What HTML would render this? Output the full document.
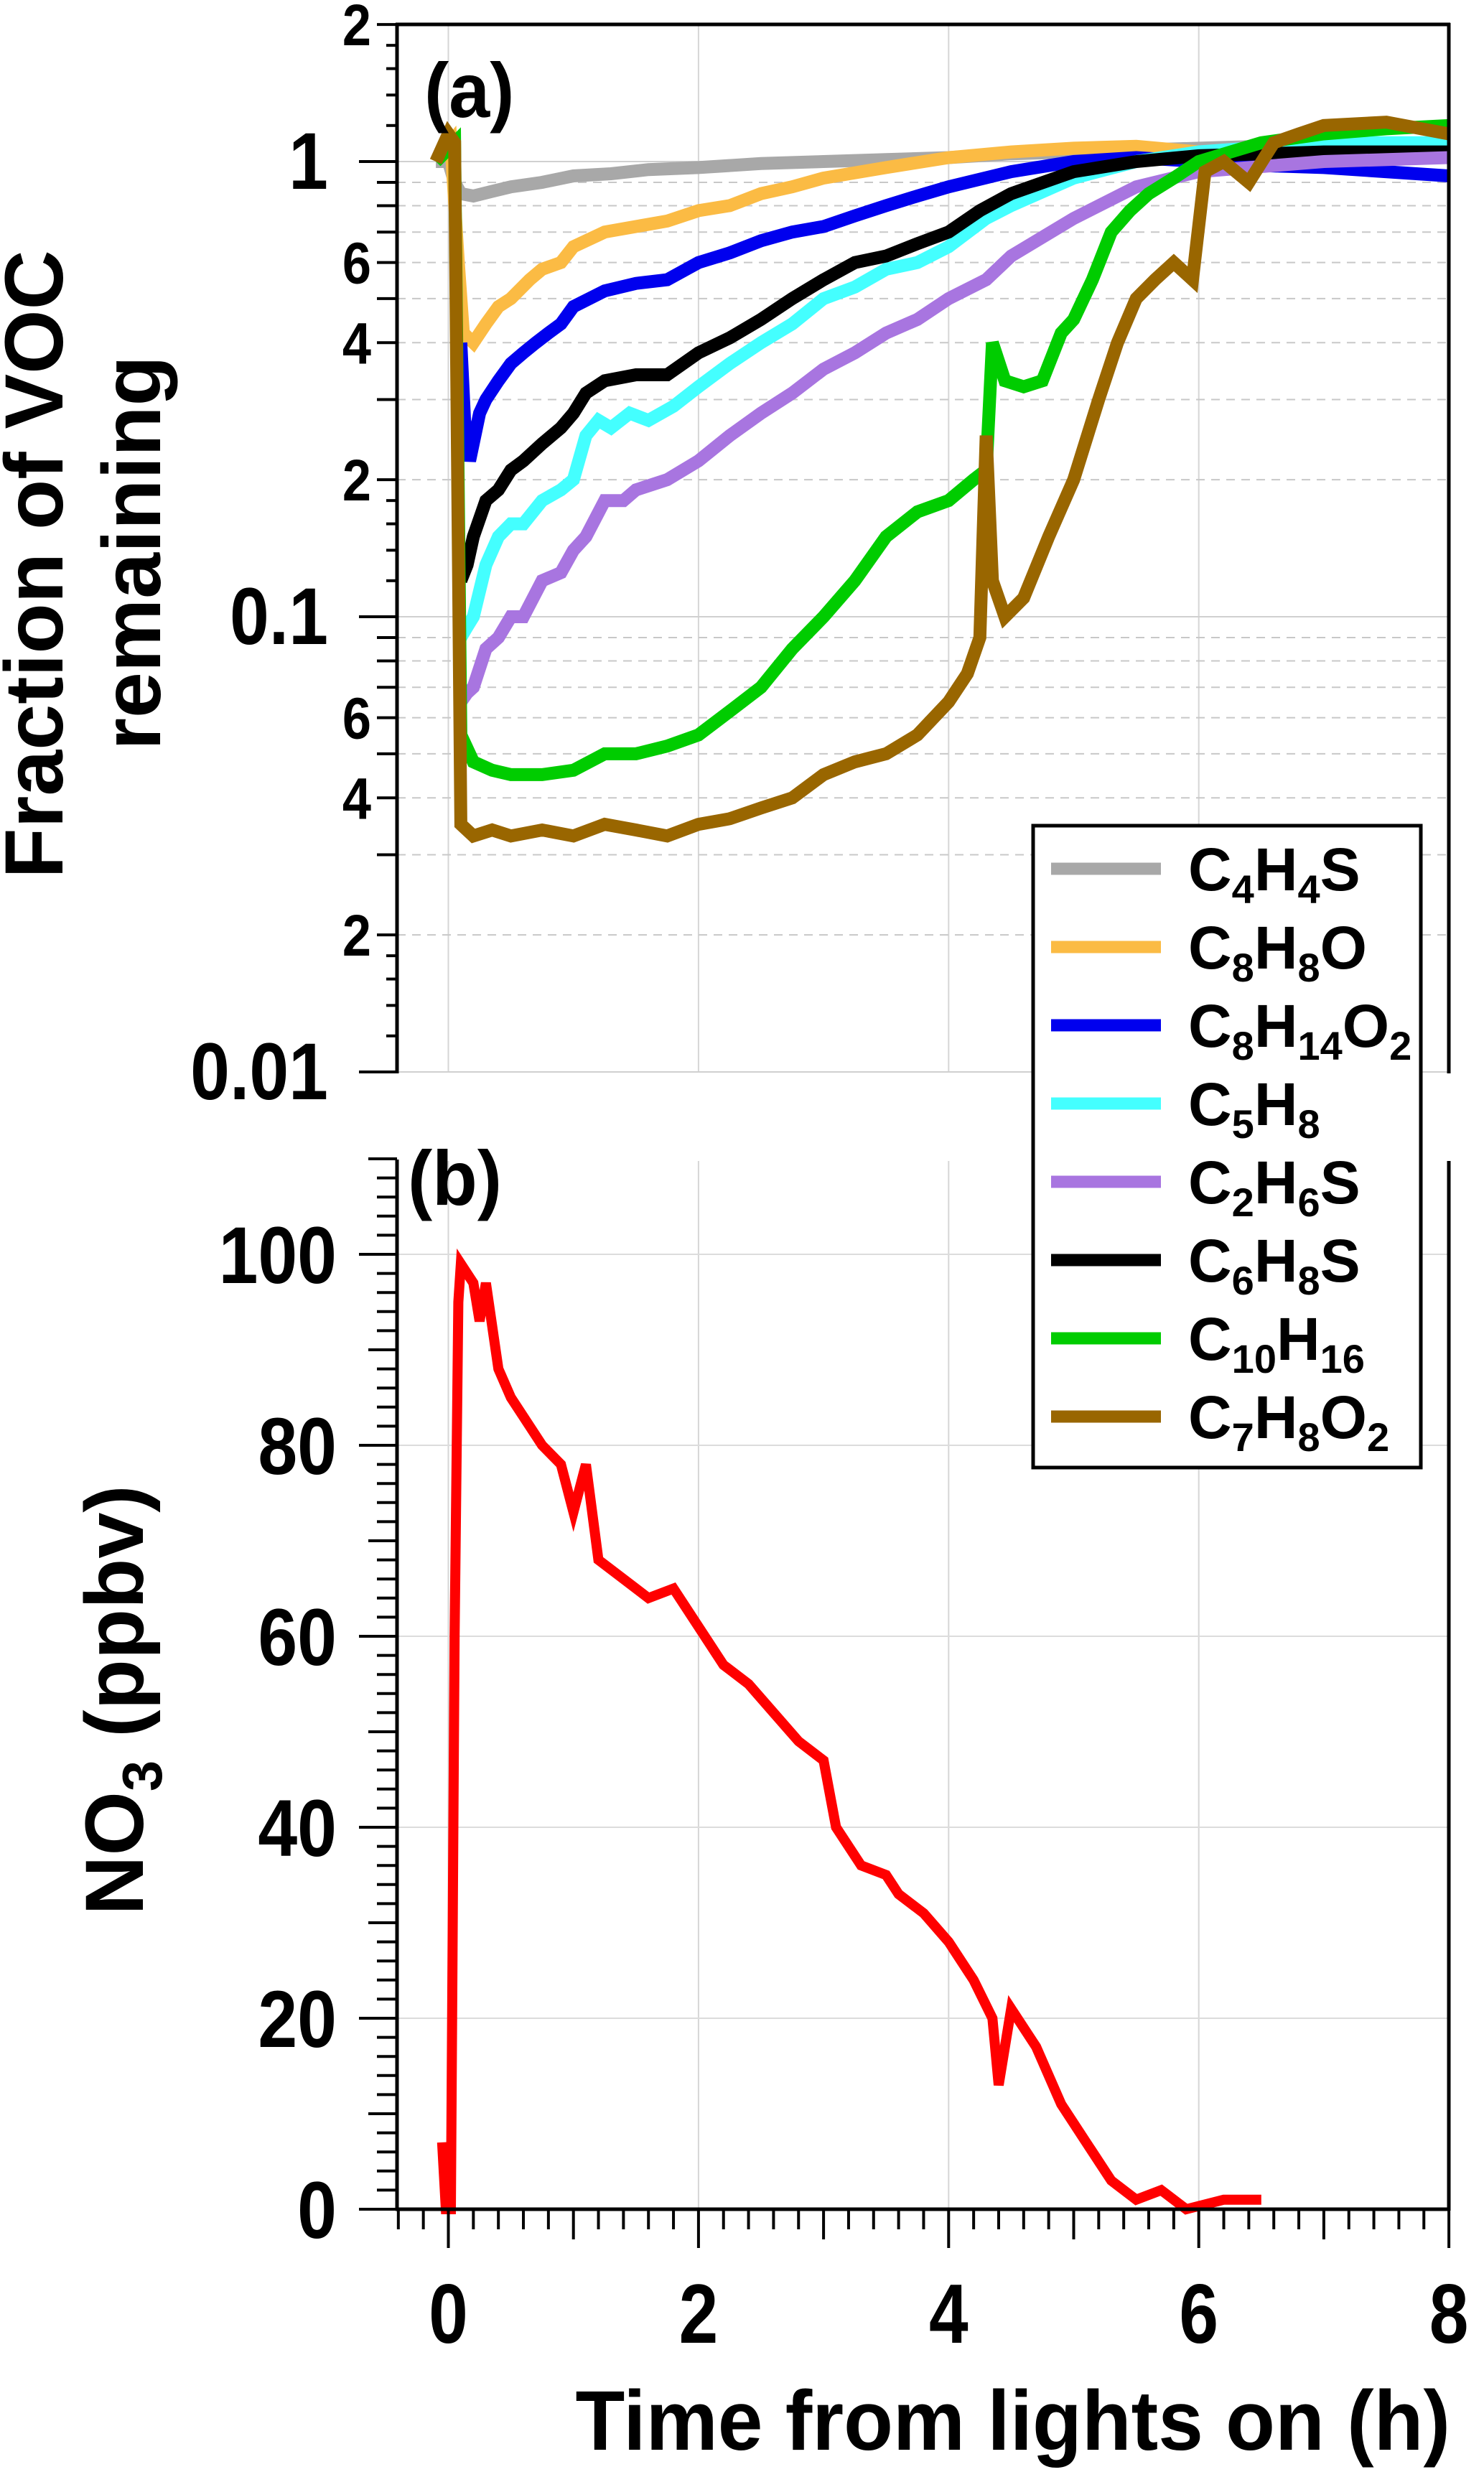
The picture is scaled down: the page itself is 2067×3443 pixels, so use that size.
<!DOCTYPE html>
<html><head><meta charset="utf-8"><style>
html,body{margin:0;padding:0;background:#fff;}
svg{display:block;font-family:"Liberation Sans",Arial,sans-serif;font-weight:bold;}
</style></head><body>
<svg id="chart" width="2067" height="3443" viewBox="0 0 2067 3443" xmlns="http://www.w3.org/2000/svg">
<g id="grid"></g><g id="series"></g><g id="axes"></g><g id="labels"></g>
</svg>
<script>
// ---- data ----
const gT = [-0.1,0.0,0.05,0.1,0.2,0.35,0.5,0.75,1.0,1.3,1.6,2.0,2.5,3.0,3.5,4.0,4.5,5.0,5.5,6.0,6.5,7.0,7.5,8.0];
const gV = [1.0,1.0,0.9,0.85,0.84,0.86,0.88,0.9,0.93,0.94,0.96,0.97,0.99,1.0,1.01,1.02,1.04,1.05,1.06,1.07,1.08,1.08,1.07,1.07];
const oT = [-0.1,0.02,0.08,0.12,0.2,0.3,0.4,0.5,0.65,0.75,0.9,1.0,1.25,1.5,1.75,2.0,2.25,2.5,2.75,3.0,3.5,4.0,4.5,5.0,5.5,6.0,7.0,8.0];
const oV = [1.0,1.1,0.6,0.42,0.4,0.44,0.48,0.5,0.55,0.58,0.6,0.65,0.7,0.72,0.74,0.78,0.8,0.85,0.88,0.92,0.97,1.02,1.05,1.07,1.08,1.05,1.03,1.02];
const bT = [0.1,0.13,0.17,0.25,0.3,0.4,0.5,0.6,0.7,0.8,0.9,1.0,1.25,1.5,1.75,2.0,2.25,2.5,2.75,3.0,3.25,3.5,3.75,4.0,4.5,5.0,5.5,6.0,6.5,7.0,8.0];
const bV = [0.4,0.27,0.22,0.28,0.3,0.33,0.36,0.38,0.4,0.42,0.44,0.48,0.52,0.54,0.55,0.6,0.63,0.67,0.7,0.72,0.76,0.8,0.84,0.88,0.95,1.0,1.02,1.0,0.98,0.97,0.93];
const cT = [0.1,0.15,0.2,0.3,0.4,0.5,0.6,0.75,0.9,1.0,1.1,1.2,1.3,1.45,1.6,1.8,2.0,2.25,2.5,2.75,3.0,3.25,3.5,3.75,4.0,4.3,4.5,5.0,5.5,6.0,7.0,8.0];
const cV = [0.09,0.095,0.1,0.13,0.15,0.16,0.16,0.18,0.19,0.2,0.25,0.27,0.26,0.28,0.27,0.29,0.32,0.36,0.4,0.44,0.5,0.53,0.58,0.6,0.65,0.75,0.8,0.92,1.0,1.05,1.1,1.1];
const pT = [0.1,0.15,0.2,0.3,0.4,0.5,0.6,0.75,0.9,1.0,1.1,1.25,1.4,1.5,1.75,2.0,2.25,2.5,2.75,3.0,3.25,3.5,3.75,4.0,4.3,4.5,5.0,5.5,6.0,7.0,8.0];
const pV = [0.065,0.068,0.07,0.085,0.09,0.1,0.1,0.12,0.125,0.14,0.15,0.18,0.18,0.19,0.2,0.22,0.25,0.28,0.31,0.35,0.38,0.42,0.45,0.5,0.55,0.62,0.75,0.88,0.95,1.0,1.02];
const kT = [0.1,0.15,0.2,0.3,0.4,0.5,0.6,0.75,0.9,1.0,1.1,1.25,1.5,1.75,2.0,2.25,2.5,2.75,3.0,3.25,3.5,3.75,4.0,4.25,4.5,5.0,5.5,6.0,7.0,8.0];
const kV = [0.12,0.13,0.15,0.18,0.19,0.21,0.22,0.24,0.26,0.28,0.31,0.33,0.34,0.34,0.38,0.41,0.45,0.5,0.55,0.6,0.62,0.66,0.7,0.78,0.85,0.95,1.0,1.03,1.05,1.05];
const nT = [-0.1,0.05,0.1,0.2,0.35,0.5,0.75,1.0,1.25,1.5,1.75,2.0,2.25,2.5,2.75,3.0,3.25,3.5,3.75,4.0,4.2,4.3,4.35,4.45,4.6,4.75,4.9,5.0,5.15,5.3,5.45,5.6,5.8,6.0,6.5,7.0,7.5,8.0];
const nV = [1.0,1.1,0.055,0.048,0.046,0.045,0.045,0.046,0.05,0.05,0.052,0.055,0.062,0.07,0.085,0.1,0.12,0.15,0.17,0.18,0.2,0.21,0.4,0.33,0.32,0.33,0.42,0.45,0.55,0.7,0.78,0.85,0.92,1.0,1.1,1.15,1.18,1.2];
const wT = [-0.1,0.0,0.05,0.1,0.2,0.35,0.5,0.75,1.0,1.25,1.5,1.75,2.0,2.25,2.5,2.75,3.0,3.25,3.5,3.75,4.0,4.15,4.25,4.3,4.35,4.45,4.6,4.8,5.0,5.2,5.35,5.5,5.65,5.8,5.95,6.05,6.2,6.4,6.6,6.8,7.0,7.5,8.0];
const wV = [1.0,1.15,1.1,0.035,0.033,0.034,0.033,0.034,0.033,0.035,0.034,0.033,0.035,0.036,0.038,0.04,0.045,0.048,0.05,0.055,0.065,0.075,0.09,0.25,0.12,0.1,0.11,0.15,0.2,0.3,0.4,0.5,0.55,0.6,0.55,0.95,1.0,0.9,1.1,1.15,1.2,1.22,1.15];
const rT = [-0.05,-0.02,0.02,0.05,0.08,0.1,0.2,0.25,0.3,0.4,0.5,0.6,0.75,0.9,1.0,1.1,1.2,1.4,1.6,1.8,2.0,2.2,2.4,2.6,2.8,3.0,3.1,3.3,3.5,3.6,3.8,4.0,4.2,4.35,4.4,4.5,4.7,4.9,5.1,5.3,5.5,5.7,5.9,6.2,6.5];
const rV = [7,0,0,60,95,99,97,93,97,88,85,83,80,78,73,78,68,66,64,65,61,57,55,52,49,47,40,36,35,33,31,28,24,20,13,21,17,11,7,3,1,2,0,1,1];
const names = ["C4H4S","C8H8O","C8H14O2","C5H8","C2H6S","C6H8S","C10H16","C7H8O2"];
const colors = ["#a8a8a8","#fbbb44","#0000ee","#44ffff","#a875e0","#000000","#00cc00","#996600"];
const xTickLabels = ["0","2","4","6","8"];
const yLogLabels = ["2","1","6","4","2","0.1","6","4","2","0.01"];
const yLinLabels = ["0","20","40","60","80","100"];

// ---- scales ----
const X = t => 624.5 + t*174.2;
const YL = v => 225 - Math.log10(v)*634;
const YB = v => 3077 - v*13.3;
const NS = "http://www.w3.org/2000/svg";
function mk(tag, attrs, parent){const e=document.createElementNS(NS,tag);for(const k in attrs)e.setAttribute(k,attrs[k]);parent.appendChild(e);return e;}
const grid=document.getElementById('grid'), ser=document.getElementById('series'), axes=document.getElementById('axes'), lab=document.getElementById('labels');

// ---- grids ----
[0,2,4,6].forEach(t=>{
  let l=mk('line',{x1:X(t),x2:X(t),y1:34,y2:1493,stroke:'#d6d6d6','stroke-width':2},grid);
  
  
  let l2=mk('line',{x1:X(t),x2:X(t),y1:1617,y2:3077,stroke:'#d6d6d6','stroke-width':2},grid);
  
  
});
[0.01,0.1,1].forEach(v=>{
  let l=mk('line',{x1:553,x2:2018,y1:YL(v),y2:YL(v),stroke:'#d0d0d0','stroke-width':2},grid);
  
  
});
[0.01,0.1,1].forEach(d=>{for(let m=2;m<=9;m++){const v=d*m;if(v>2)continue;
  let l=mk('line',{x1:553,x2:2018,y1:YL(v),y2:YL(v),stroke:'#c8c8c8','stroke-width':2,'stroke-dasharray':'12,9'},grid);
  
  
}});
[20,40,60,80,100].forEach(v=>{
  let l=mk('line',{x1:553,x2:2018,y1:YB(v),y2:YB(v),stroke:'#dcdcdc','stroke-width':2},grid);
  
  
});

// ---- series ----
const cp=mk('clipPath',{id:'clipTop'},ser);
mk('rect',{x:553,y:30,width:1475,height:1470},cp);
const TS=[gT,oT,bT,cT,pT,kT,nT,wT], VS=[gV,oV,bV,cV,pV,kV,nV,wV];
const order=[0,1,2,3,5,4,6,7];
order.forEach(i=>{
  const d=TS[i].map((t,j)=>(j?'L':'M')+X(t).toFixed(1)+','+YL(VS[i][j]).toFixed(1)).join('');
  const p=mk('path',{d:d,fill:'none',stroke:colors[i],'stroke-width':18,'stroke-linejoin':'miter','clip-path':'url(#clipTop)'},ser);
  
  
});
{
  const d=rT.map((t,j)=>(j?'L':'M')+X(t).toFixed(1)+','+YB(rV[j]).toFixed(1)).join('');
  const p=mk('path',{d:d,fill:'none',stroke:'#ff0000','stroke-width':14,'stroke-linejoin':'miter'},ser);
  
  
}

// ---- axes ----
function ln(x1,y1,x2,y2,w,name){const l=mk('line',{x1:x1,y1:y1,x2:x2,y2:y2,stroke:'#000','stroke-width':w},axes);return l;}
ln(553,32,553,1495,5,'top-y-axis');
ln(551,34,2020,34,5,'top-frame-top');
ln(2018,32,2018,1495,5,'top-frame-right');
ln(553,1615,553,3079,5,'bottom-y-axis');
ln(2018,1617,2018,3079,5,'bottom-frame-right');
ln(551,3077,2020,3077,5,'x-axis');
[0.01,0.1,1].forEach(d=>{ln(500,YL(d),553,YL(d),4,'top-major-tick');
  for(let m=2;m<=9;m++){const v=d*m;if(v>2.01)continue;ln(525,YL(v),553,YL(v),4,'top-minor-tick');}
  for(let m=1.2;m<1.99;m+=0.2){const v=d*m;ln(538,YL(v),553,YL(v),4,'top-small-tick');}
});
for(let v=0;v<=110;v+=2){const len=(v%20===0)?53:(v%10===0)?40:28;ln(553-len,YB(v),553,YB(v),4,'bottom-y-tick');}
for(let k=-2;k<=40;k++){const t=k*0.2;const len=(k%10===0)?54:(k%5===0)?42:28;ln(X(t),3077,X(t),3077+len,4,'x-tick');}

// ---- text ----
function tx(str,x,y,size,anchor,sx,name){const t=mk('text',{x:0,y:0,'font-size':size,'text-anchor':anchor,transform:`translate(${x},${y}) scale(${sx},1)`},lab);t.textContent=str;return t;}
const logVals=[2,1,0.6,0.4,0.2,0.1,0.06,0.04,0.02,0.01];
logVals.forEach((v,i)=>{const big=(v===1||v===0.1||v===0.01);
  if(big) tx(yLogLabels[i],457,YL(v)+38,112,'end',0.88,'top-y-tick-label');
  else tx(yLogLabels[i],517,YL(v)+29,82,'end',0.88,'top-y-tick-label');});
yLinLabels.forEach((s,i)=>tx(s,469,YB(i*20)+40,112,'end',0.88,'bottom-y-tick-label'));
xTickLabels.forEach((s,i)=>tx(s,X(i*2),3263,117,'middle',0.84,'x-tick-label'));
tx('Time from lights on (h)',2020,3412,118,'end',0.955,'x-axis-title');
tx('(a)',591,163,108,'start',0.95,'panel-a-label');
tx('(b)',568,1678,108,'start',0.95,'panel-b-label');
{let t=tx('Fraction of VOC',0,0,115,'middle',1,'y-axis-title-top');t.setAttribute('transform','translate(87,786) rotate(-90)');
 let t2=tx('remaining',0,0,115,'middle',1,'y-axis-title-top-line2');t2.setAttribute('transform','translate(223,770) rotate(-90)');
 let t3=mk('text',{'font-size':115,'text-anchor':'middle',transform:'translate(199,2368) rotate(-90)'},lab);
 
 
 t3.innerHTML='NO<tspan font-size="78" dy="26">3</tspan><tspan dy="-26"> (ppbv)</tspan>';}

// ---- legend ----
const lg=mk('g',{},lab);


mk('rect',{x:1439,y:1150,width:540,height:894,fill:'#fff',stroke:'#000','stroke-width':5},lg);
const subs=[["C","4","H","4","S"],["C","8","H","8","O"],["C","8","H","14","O","2"],["C","5","H","8"],["C","2","H","6","S"],["C","6","H","8","S"],["C","10","H","16"],["C","7","H","8","O","2"]];
names.forEach((n,i)=>{const y=1210+i*109;
  const l=mk('line',{x1:1464,x2:1617,y1:y,y2:y,stroke:colors[i],'stroke-width':17},lg);
  
  
  const t=mk('text',{x:1655,y:y+30,'font-size':84},lg);
  
  
  let h='';subs[i].forEach((s,j)=>{if(/\d/.test(s))h+=`<tspan font-size="56" dy="18">${s}</tspan>`;else h+=`<tspan dy="${j&&/\d/.test(subs[i][j-1])?-18:0}">${s}</tspan>`;});
  t.innerHTML=h;
});
</script>
</body></html>
